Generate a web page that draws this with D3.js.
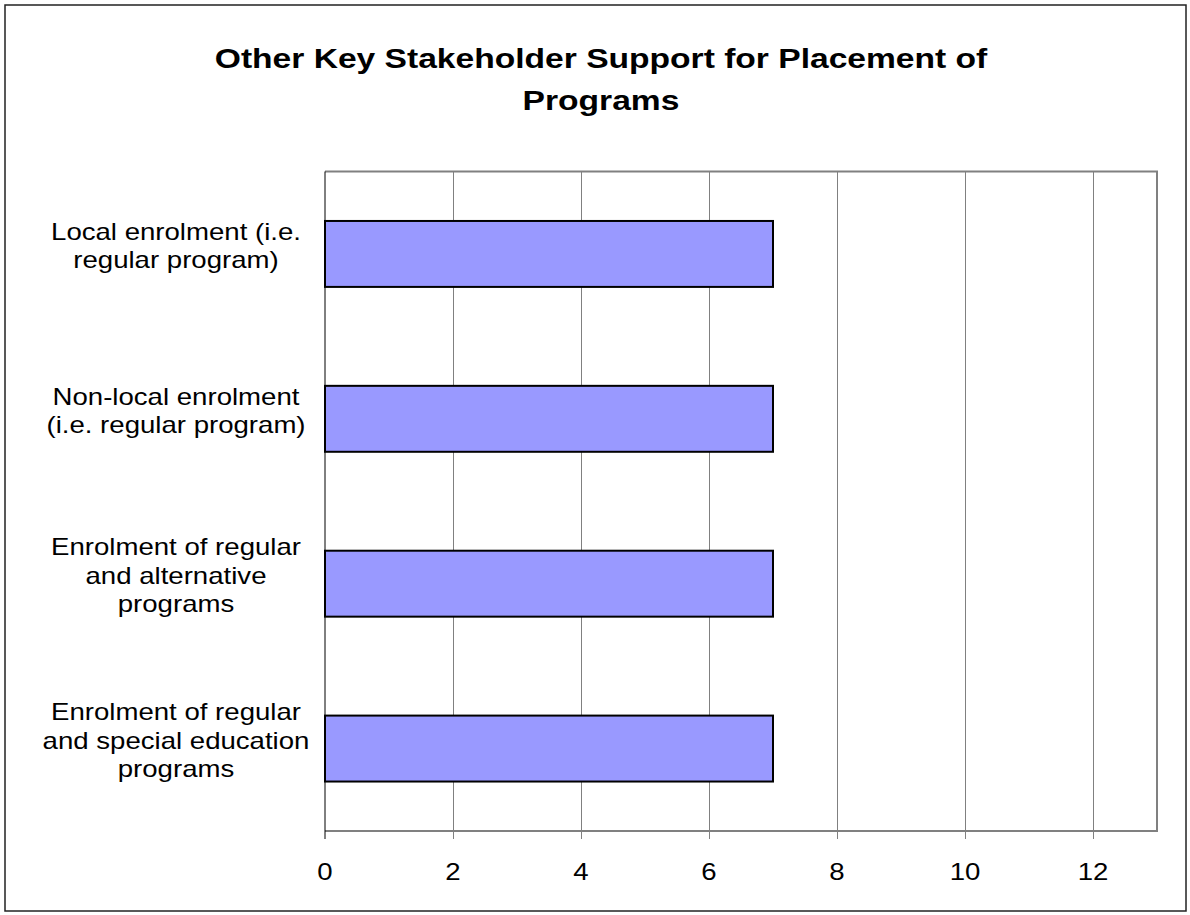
<!DOCTYPE html>
<html>
<head>
<meta charset="utf-8">
<script src="https://cdn.jsdelivr.net/npm/d3@7"></script>
<style>
  body { margin: 0; background: #fff; }
  text { font-family: "Liberation Sans", Arial, sans-serif; fill: #000; }
</style>
</head>
<body>
<div id="chart"></div>
<script>
// data
var categories = [
  "Local enrolment (i.e.\nregular program)",
  "Non-local enrolment\n(i.e. regular program)",
  "Enrolment of regular\nand alternative\nprograms",
  "Enrolment of regular\nand special education\nprograms"
];
var values = [7, 7, 7, 7];
var xTicks = [0, 2, 4, 6, 8, 10, 12];
var titleLines = ["Other Key Stakeholder Support for Placement of", "Programs"];

var W = 1190, H = 915;
var margin = { top: 171.5, right: 33, bottom: 84, left: 325 };
var stretch = 1.2; // text in the picture is drawn wider than it is tall

var svg = d3.select("#chart").append("svg")
  .attr("width", W)
  .attr("height", H);

// outer frame
svg.append("rect")
  .attr("x", 5).attr("y", 5)
  .attr("width", W - 9).attr("height", H - 9)
  .attr("fill", "#fff")
  .attr("stroke", "#222")
  .attr("stroke-width", 1.5);

// scales
var x = d3.scaleLinear().domain([0, 13]).range([margin.left, W - margin.right]);
var y = d3.scaleBand().domain(categories)
  .range([margin.top, H - margin.bottom])
  .paddingInner(0.6).paddingOuter(0.3);

var plotTop = margin.top, plotBottom = H - margin.bottom;

// helper for wide text
function wideText(g, px, py, str, size, weight, anchor) {
  g.append("g")
    .attr("transform", "translate(" + px + "," + py + ") scale(" + stretch + ",1)")
    .append("text")
    .attr("text-anchor", anchor || "middle")
    .style("font-size", size + "px")
    .style("font-weight", weight || "normal")
    .text(str);
}

// title
titleLines.forEach(function (t, i) {
  wideText(svg, 601, 68 + i * 42, t, 28, "bold");
});

// grid lines + tick marks
svg.append("g")
  .selectAll("line")
  .data(xTicks.filter(function (d) { return d > 0; }))
  .enter().append("line")
  .attr("x1", function (d) { return Math.round(x(d)) + 0.5; })
  .attr("x2", function (d) { return Math.round(x(d)) + 0.5; })
  .attr("y1", plotTop)
  .attr("y2", plotBottom + 8)
  .attr("stroke", "#808080")
  .attr("stroke-width", 1);

// plot border (top / right / bottom)
svg.append("path")
  .attr("d", "M" + x(0) + "," + plotTop + "H" + x(13) + "V" + plotBottom + "H" + x(0))
  .attr("fill", "none")
  .attr("stroke", "#808080")
  .attr("stroke-width", 2);

// y axis line
svg.append("line")
  .attr("x1", x(0)).attr("x2", x(0))
  .attr("y1", plotTop).attr("y2", plotBottom + 8)
  .attr("stroke", "#000")
  .attr("stroke-width", 1);

// bars
svg.append("g")
  .selectAll("rect")
  .data(values)
  .enter().append("rect")
  .attr("x", x(0))
  .attr("y", function (d, i) { return y(categories[i]); })
  .attr("width", function (d) { return x(d) - x(0); })
  .attr("height", y.bandwidth())
  .attr("fill", "#9999FF")
  .attr("stroke", "#000")
  .attr("stroke-width", 2);

// x tick labels
var xl = svg.append("g");
xTicks.forEach(function (d) {
  wideText(xl, x(d), 880, d3.format("d")(d), 23);
});

// category labels
var cl = svg.append("g");
categories.forEach(function (c) {
  var lines = c.split("\n");
  var cy = y(c) + y.bandwidth() / 2;
  lines.forEach(function (ln, i) {
    wideText(cl, 176, cy + (i - (lines.length - 1) / 2) * 28.5, ln, 23);
  });
});
</script>
</body>
</html>
